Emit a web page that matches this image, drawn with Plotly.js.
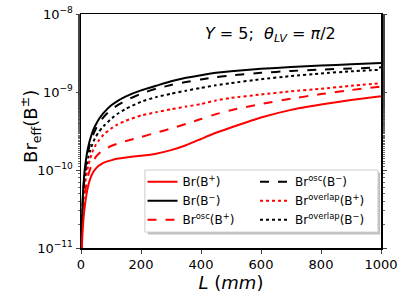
<!DOCTYPE html>
<html><head><meta charset="utf-8">
<script src="https://cdn.plot.ly/plotly-3.0.1.min.js"></script>
<style>html,body{margin:0;padding:0;background:#fff}#c{width:407px;height:305px}</style>
</head><body><div id="c"></div>
<script>
const L = [1, 2, 4, 6, 8, 10, 13, 16, 20, 25, 30, 40, 50, 60, 70, 80, 100, 120, 150, 200, 250, 300, 350, 400, 450, 500, 600, 700, 800, 900, 1000];
const brBp = [5e-12, 8e-12, 1.3e-11, 1.8e-11, 2.3e-11, 2.8e-11, 3.5e-11, 4.3e-11, 5.3e-11, 6.5e-11, 7.6e-11, 9.3e-11, 1.05e-10, 1.14e-10, 1.21e-10, 1.26e-10, 1.33e-10, 1.39e-10, 1.45e-10, 1.52e-10, 1.62e-10, 1.8e-10, 2.08e-10, 2.5e-10, 3.0e-10, 3.5e-10, 4.7e-10, 5.9e-10, 6.9e-10, 7.9e-10, 8.8e-10];
const brBm = [8e-12, 1.4e-11, 2.8e-11, 4.5e-11, 6.2e-11, 8e-11, 1.05e-10, 1.3e-10, 1.65e-10, 2.05e-10, 2.45e-10, 3.2e-10, 3.85e-10, 4.5e-10, 5.1e-10, 5.65e-10, 6.7e-10, 7.6e-10, 8.8e-10, 1.05e-9, 1.2e-9, 1.37e-9, 1.52e-9, 1.64e-9, 1.76e-9, 1.85e-9, 1.98e-9, 2.09e-9, 2.18e-9, 2.27e-9, 2.36e-9];
const oscBp = [6e-12, 1e-11, 1.8e-11, 2.6e-11, 3.3e-11, 4e-11, 5e-11, 6e-11, 7.3e-11, 8.8e-11, 1.02e-10, 1.28e-10, 1.48e-10, 1.63e-10, 1.75e-10, 1.85e-10, 2.03e-10, 2.17e-10, 2.35e-10, 2.65e-10, 3.0e-10, 3.4e-10, 3.9e-10, 4.5e-10, 5.2e-10, 5.85e-10, 7.0e-10, 8.2e-10, 9.4e-10, 1.06e-9, 1.17e-9];
const oscBm = [7e-12, 1.3e-11, 2.5e-11, 4e-11, 5.5e-11, 7e-11, 9.2e-11, 1.15e-10, 1.45e-10, 1.8e-10, 2.15e-10, 2.8e-10, 3.4e-10, 3.95e-10, 4.5e-10, 5.0e-10, 5.9e-10, 6.7e-10, 7.8e-10, 9.5e-10, 1.1e-9, 1.23e-9, 1.34e-9, 1.45e-9, 1.55e-9, 1.63e-9, 1.76e-9, 1.86e-9, 1.94e-9, 2.0e-9, 2.07e-9];
const ovBp = [6e-12, 1.1e-11, 2e-11, 3e-11, 4e-11, 5e-11, 6.4e-11, 7.8e-11, 9.6e-11, 1.18e-10, 1.38e-10, 1.78e-10, 2.12e-10, 2.42e-10, 2.7e-10, 2.95e-10, 3.4e-10, 3.8e-10, 4.3e-10, 5.0e-10, 5.5e-10, 6.0e-10, 6.5e-10, 7.0e-10, 7.8e-10, 8.4e-10, 9.3e-10, 1.02e-9, 1.1e-9, 1.2e-9, 1.3e-9];
const ovBm = [7e-12, 1.2e-11, 2.3e-11, 3.6e-11, 4.9e-11, 6.2e-11, 8e-11, 9.8e-11, 1.2e-10, 1.5e-10, 1.75e-10, 2.25e-10, 2.7e-10, 3.1e-10, 3.45e-10, 3.8e-10, 4.5e-10, 5.2e-10, 6.1e-10, 7.5e-10, 8.6e-10, 9.5e-10, 1.04e-9, 1.13e-9, 1.22e-9, 1.3e-9, 1.46e-9, 1.6e-9, 1.73e-9, 1.84e-9, 1.93e-9];
const names = ["Br(B<sup>+</sup>)", "Br(B<sup>−</sup>)", "Br<sup>osc</sup>(B<sup>+</sup>)", "Br<sup>osc</sup>(B<sup>−</sup>)", "Br<sup>overlap</sup>(B<sup>+</sup>)", "Br<sup>overlap</sup>(B<sup>−</sup>)"];
const xTicks = [0, 200, 400, 600, 800, 1000];
const yTicks = [1e-11, 1e-10, 1e-9, 1e-8];
const yTickText = ["10<sup>−11</sup>", "10<sup>−10</sup>", "10<sup>−9</sup>", "10<sup>−8</sup>"];

function tr(y, name, color, dash, leg) {
  return {x: L, y: y, name: name, type: 'scatter', mode: 'lines',
    line: {color: color, width: 2, dash: dash, shape: 'spline', smoothing: 0.4}, legend: leg};
}
const data = [
  tr(ovBm, names[5], 'black', 'dot', 'legend2'),
  tr(ovBp, names[4], 'red', 'dot', 'legend2'),
  tr(oscBm, names[3], 'black', 'dash', 'legend2'),
  tr(oscBp, names[2], 'red', 'dash', 'legend'),
  tr(brBm, names[1], 'black', 'solid', 'legend'),
  tr(brBp, names[0], 'red', 'solid', 'legend')
];
const legCommon = {bgcolor: 'rgba(0,0,0,0)', borderwidth: 0, traceorder: 'reversed',
  font: {family: 'DejaVu Sans', size: 12, color: 'black'}, tracegroupgap: 0, yanchor: 'top', xanchor: 'left', itemwidth: 30};
const layout = {
  width: 407, height: 305,
  margin: {l: 81, r: 26, t: 14, b: 57},
  paper_bgcolor: 'white', plot_bgcolor: 'white',
  font: {family: 'DejaVu Sans', color: 'black'},
  showlegend: true,
  legend: Object.assign({}, legCommon, {x: 0.205, y: 0.345}),
  legend2: Object.assign({}, legCommon, {x: 0.58, y: 0.345}),
  xaxis: {range: [0, 1000], tickvals: xTicks, ticktext: xTicks.map(String), ticks: 'outside', ticklen: 4,
    tickwidth: 1, showline: true, linewidth: 1.5, linecolor: 'black', mirror: true, showgrid: false, zeroline: false,
    tickfont: {size: 13, family: 'DejaVu Sans'},
    title: {text: '<i>L</i> (<i>mm</i>)', font: {size: 18, family: 'DejaVu Sans'}, standoff: 2}},
  yaxis: {type: 'log', range: [-11, -8], tickvals: yTicks, ticktext: yTickText, ticks: 'outside', ticklen: 4,
    tickwidth: 1, showline: true, linewidth: 1.5, linecolor: 'black', mirror: 'ticks', showgrid: false, zeroline: false,
    tickfont: {size: 13, family: 'DejaVu Sans'},
    minor: {ticks: 'outside', ticklen: 2, tickwidth: 0.8, showgrid: false}},
  annotations: [
    {xref: 'paper', yref: 'paper', x: 0.63, y: 0.965, xanchor: 'center', yanchor: 'top', showarrow: false,
      text: '<i>Y</i> = 5;  <i>θ<sub>LV</sub></i> = <i>π</i>/2', font: {size: 16, family: 'DejaVu Sans', color: 'black'}},
    {xref: 'paper', yref: 'paper', x: -0.168, y: 0.52, xanchor: 'center', yanchor: 'middle', showarrow: false, textangle: -90,
      text: 'Br<sub>eff</sub>(B<sup>±</sup>)', font: {size: 18, family: 'DejaVu Sans', color: 'black'}}
  ],
  shapes: [
    {type: 'rect', xref: 'paper', yref: 'paper', x0: 0.223, x1: 0.997, y0: 0.058, y1: 0.323, layer: 'below',
      fillcolor: 'rgba(0,0,0,0.25)', line: {width: 0}},
    {type: 'rect', xref: 'paper', yref: 'paper', x0: 0.213, x1: 0.99, y0: 0.068, y1: 0.333, layer: 'below',
      fillcolor: 'white', line: {color: '#cccccc', width: 1}}
  ]
};
Plotly.newPlot('c', data, layout, {displayModeBar: false, staticPlot: true});
</script></body></html>
